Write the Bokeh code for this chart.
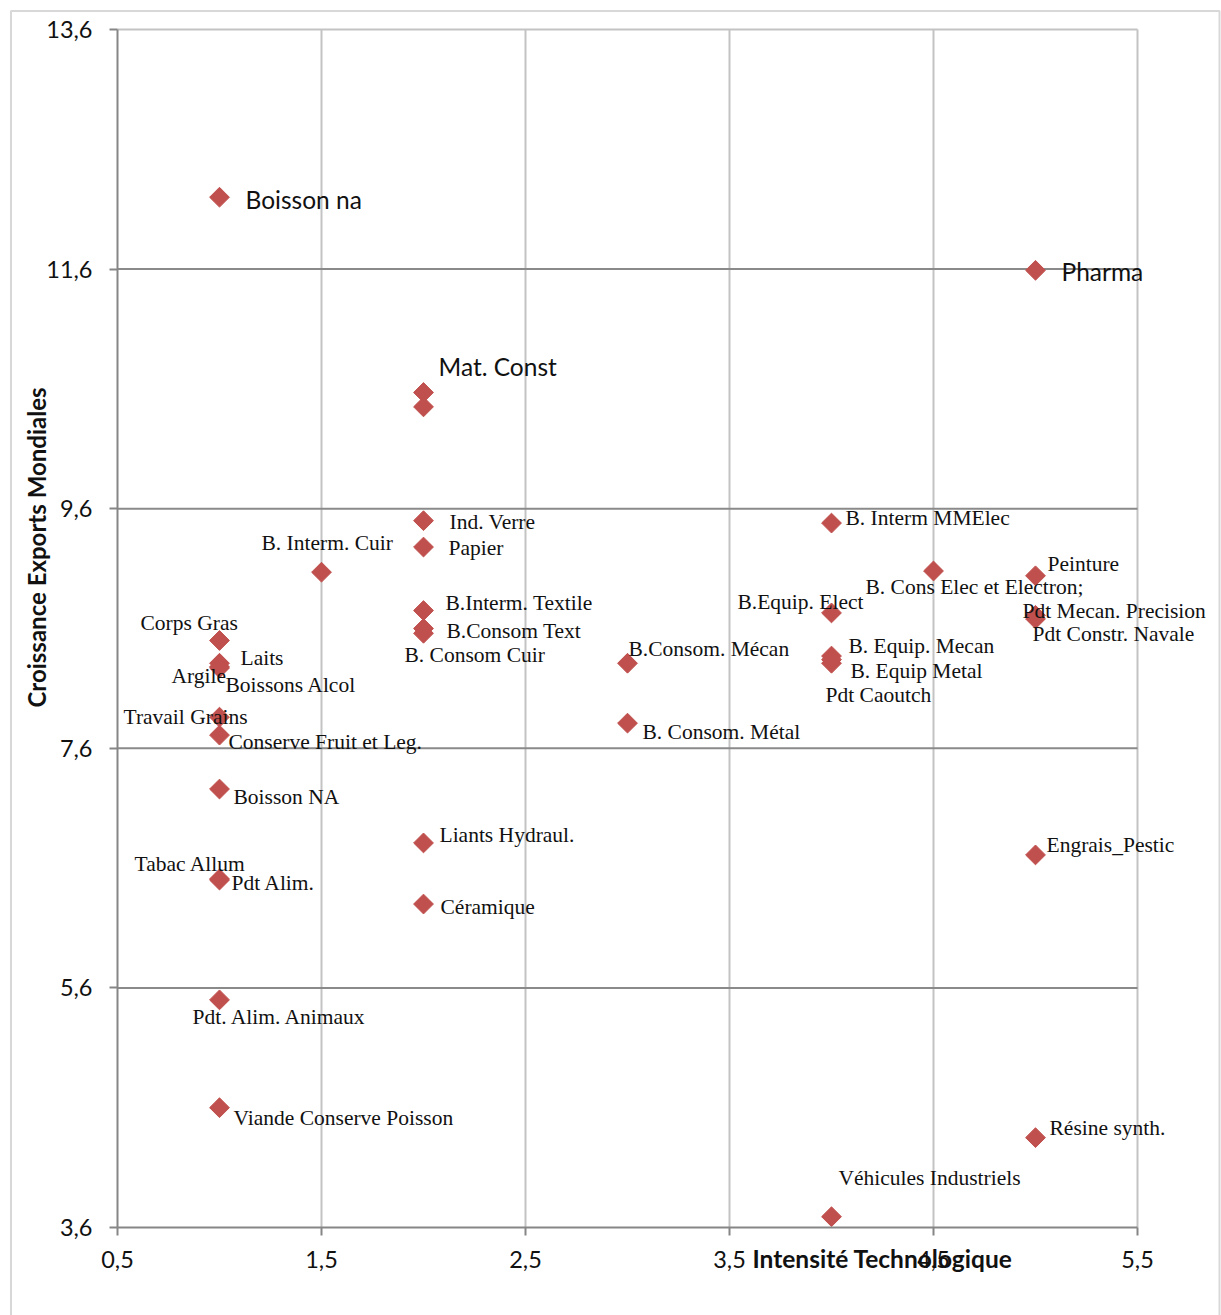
import math
from bokeh.plotting import figure
from bokeh.models import ColumnDataSource, FixedTicker, Label, BoxAnnotation, Range1d
from bokeh.core.properties import value
from bokeh.embed import file_html
from bokeh.resources import INLINE

# --- data -------------------------------------------------------------
products = [
    "Boisson na", "Pharma", "Mat. Const", "",
    "Ind. Verre", "Papier", "B. Interm. Cuir", "B.Interm. Textile",
    "B.Consom Text", "B. Consom Cuir", "Corps Gras", "Laits", "Argile",
    "Boissons Alcol", "Travail Grains", "Conserve Fruit et Leg.", "Boisson NA",
    "Tabac Allum", "Pdt Alim.", "Liants Hydraul.", "Céramique",
    "Pdt. Alim. Animaux", "Viande Conserve Poisson", "B. Interm MMElec",
    "B. Cons Elec et Electron;", "Peinture", "B.Equip. Elect",
    "Pdt Mecan. Precision", "Pdt Constr. Navale", "B. Equip. Mecan",
    "B. Equip Metal", "Pdt Caoutch", "B.Consom. Mécan", "B. Consom. Métal",
    "Engrais_Pestic", "Résine synth.", "Véhicules Industriels",
]
intensity = [
    1, 5, 2, 2,
    2, 2, 1.5, 2,
    2, 2, 1, 1, 1,
    1, 1, 1, 1,
    1, 1, 2, 2,
    1, 1, 4,
    4.5, 5, 4,
    5, 5, 4,
    4, 4, 3, 3,
    5, 5, 4,
]
growth = [
    12.20, 11.59, 10.57, 10.45,
    9.50, 9.28, 9.07, 8.75,
    8.60, 8.56, 8.50, 8.31, 8.28,
    8.27, 7.86, 7.71, 7.26,
    6.51, 6.50, 6.81, 6.30,
    5.50, 4.60, 9.48,
    9.08, 9.04, 8.73,
    8.71, 8.68, 8.37,
    8.31, 8.34, 8.31, 7.81,
    6.71, 4.35, 3.69,
]

x_ticks = [0.5, 1.5, 2.5, 3.5, 4.5, 5.5]
x_tick_labels = ["0,5", "1,5", "2,5", "3,5", "4,5", "5,5"]
y_ticks = [3.6, 5.6, 7.6, 9.6, 11.6, 13.6]
y_tick_labels = ["3,6", "5,6", "7,6", "9,6", "11,6", "13,6"]

# --- label placement (pixel offsets from each marker) ------------------
label_dx = [
    26, 26, 15, 0,
    26, 25, -60, 22,
    23, -19, -79, 21, -48,
    6, -96, 9, 14,
    -85, 12, 16, 17,
    -27, 14, 14,
    -68, 12, -94,
    -13, -3, 17,
    19, -6, 1, 15,
    11, 14, 7,
]
label_dy = [
    2, 1, -26, 0,
    1, 1, -29, -8,
    2, 22, -17, -5, 9,
    17, 0, 7, 8,
    -15, 3, -8, 3,
    17, 10, -5,
    16, -12, -11,
    -4, 15, -10,
    8, 35, -14, 9,
    -10, -10, -39,
]
big_labels = {"Boisson na", "Pharma", "Mat. Const"}

SANS = "Lato"
SERIF = "Liberation Serif"
MARK = "#C0504D"
GRID_LIGHT = "#c3c3c3"
GRID_DARK = "#8a8a8a"

W, H = 1221, 1315
# plot box in pixels: x 0.5 -> 117, 5.5 -> 1137 ; y 13.6 -> 29, 3.6 -> 1227
PX_L, PX_R, PY_T, PY_B = 117, 1137, 29, 1227
sx = (PX_R - PX_L) / (x_ticks[-1] - x_ticks[0])
sy = (PY_B - PY_T) / (y_ticks[-1] - y_ticks[0])


def px_x(px):
    return x_ticks[0] + (px - PX_L) / sx


def px_y(py):
    return y_ticks[-1] - (py - PY_T) / sy


# the frame fills the whole canvas so that labels outside the axes stay visible
p = figure(
    width=W, height=H,
    x_range=Range1d(px_x(0), px_x(W)), y_range=Range1d(px_y(H), px_y(0)),
    min_border=0, output_backend="svg", toolbar_location=None,
)
p.background_fill_color = "white"
p.border_fill_color = "white"
p.outline_line_color = None
p.grid.visible = False

# grid lines restricted to the axes box
p.segment(x0=x_ticks[1:], y0=[y_ticks[0]] * 5, x1=x_ticks[1:], y1=[y_ticks[-1]] * 5,
          line_color=GRID_LIGHT, line_width=2)
p.segment(x0=[x_ticks[0]], y0=[y_ticks[-1]], x1=[x_ticks[-1]], y1=[y_ticks[-1]],
          line_color=GRID_LIGHT, line_width=2)
p.segment(x0=[x_ticks[0]] * 4, y0=y_ticks[1:5], x1=[x_ticks[-1]] * 4, y1=y_ticks[1:5],
          line_color=GRID_DARK, line_width=2)

# axes pinned to the lower-left corner of the box
p.xaxis.fixed_location = y_ticks[0]
p.yaxis.fixed_location = x_ticks[0]
p.xaxis.bounds = (x_ticks[0], x_ticks[-1])
p.yaxis.bounds = (y_ticks[0], y_ticks[-1])
for ax, ticks, labels in ((p.xaxis, x_ticks, x_tick_labels), (p.yaxis, y_ticks, y_tick_labels)):
    ax.ticker = FixedTicker(ticks=ticks)
    ax.major_label_overrides = {t: l for t, l in zip(ticks, labels)}
    ax.axis_line_color = "#868686"
    ax.axis_line_width = 2
    ax.major_tick_line_color = "#868686"
    ax.major_tick_line_width = 2
    ax.major_tick_out = 8
    ax.major_tick_in = 0
    ax.minor_tick_line_color = None
    ax.major_label_text_font = SANS
    ax.major_label_text_font_size = "23.5px"
    ax.major_label_text_color = "#111111"
p.xaxis.major_label_standoff = 15
p.yaxis.major_label_standoff = 17

# markers
src = ColumnDataSource(dict(x=intensity, y=growth, label=products,
                            dx=label_dx, dy=label_dy))
p.scatter("x", "y", source=src, marker="square", angle=math.pi / 4,
          size=14, fill_color=MARK, line_color=MARK)

# point labels: serif for most, larger sans for a few
serif_idx = [i for i, n in enumerate(products) if n not in big_labels]
sans_idx = [i for i, n in enumerate(products) if n in big_labels]
for idx, font, size in ((serif_idx, SERIF, "21.5px"), (sans_idx, SANS, "24.5px")):
    sub = ColumnDataSource({k: [src.data[k][i] for i in idx] for k in src.data})
    p.text("x", "y", text="label", source=sub, x_offset="dx", y_offset="dy",
           text_font=value(font), text_font_size=size, text_color="#111111",
           text_align="left", text_baseline="middle")

# axis titles
p.add_layout(Label(x=px_x(752), y=px_y(1258), text="Intensité Technologique",
                   text_align="left", text_baseline="middle",
                   text_font=SANS, text_font_style="bold",
                   text_font_size="24.5px", text_color="#111111"))
p.add_layout(Label(x=px_x(36), y=px_y(547), text="Croissance Exports Mondiales",
                   angle=math.pi / 2, text_align="center", text_baseline="middle",
                   text_font=SANS, text_font_style="bold",
                   text_font_size="24px", text_color="#111111"))

# outer chart border (its lower edge runs past the bottom of the page)
p.add_layout(BoxAnnotation(left=px_x(10.5), right=px_x(1219), top=px_y(10.5), bottom=px_y(H + 40),
                           fill_alpha=0, line_color="#7f7f7f", line_width=2))

open("out.html", "w").write(file_html(p, INLINE))
